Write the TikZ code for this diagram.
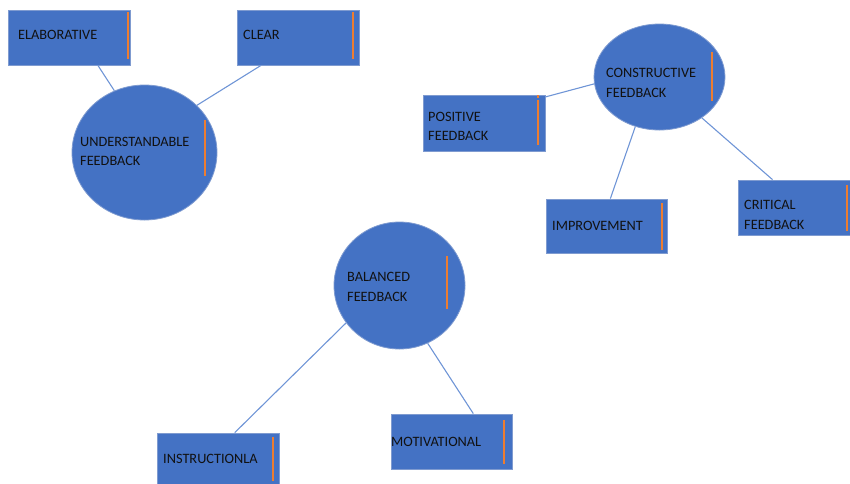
\documentclass[tikz,border=0pt]{standalone}
\usepackage{fontspec}
\setmainfont{Carlito}
\usetikzlibrary{shapes.geometric,calc}
\definecolor{fillblue}{HTML}{4472C4}
\definecolor{edgeblue}{HTML}{7F9BD0}
\definecolor{linkblue}{HTML}{6F95D6}
\definecolor{barorange}{HTML}{ED7D31}
\definecolor{txt}{HTML}{111111}
\tikzset{
  box/.style={draw=edgeblue, line width=0.8pt, fill=fillblue, rectangle, inner sep=0pt},
  oval/.style={draw=edgeblue, line width=0.8pt, fill=fillblue, ellipse, inner sep=0pt},
  lbl/.style={anchor=west, inner sep=0pt, text=txt, font=\fontsize{14.3}{19.5}\selectfont, align=left},
  link/.style={draw=linkblue, line width=1.1pt},
  bar/.style={draw=barorange, line width=1.8pt}
}
\begin{document}
\begin{tikzpicture}[x=1pt,y=-1pt]
\useasboundingbox (0,0) rectangle (850,483);
\clip (0,0) rectangle (850,483);
% shapes
\node[box, minimum width=122pt, minimum height=55pt] (elab) at (69,37.5) {};
\node[box, minimum width=122pt, minimum height=55pt] (clear) at (298,37.5) {};
\node[oval, minimum width=145pt, minimum height=135pt] (und) at (144.5,152.5) {};
\node[oval, minimum width=131pt, minimum height=106pt] (cons) at (659.5,77) {};
\node[box, minimum width=122pt, minimum height=56pt] (pos) at (484,123) {};
\node[box, minimum width=121pt, minimum height=54pt] (impr) at (606.5,226) {};
\node[box, minimum width=121pt, minimum height=55pt] (crit) at (798.5,207.5) {};
\node[oval, minimum width=131pt, minimum height=127pt] (bal) at (399.5,285.5) {};
\node[box, minimum width=122pt, minimum height=55pt] (instr) at (218,460.5) {};
\node[box, minimum width=121pt, minimum height=55pt] (motiv) at (451.5,441.5) {};
% connectors
\draw[link] (elab.-44.5) -- (und.116.7);
\draw[link] (clear.217.4) -- (und.42.7);
\draw[link] (pos.23.1) -- (cons.186.1);
\draw[link] (impr.82.6) -- (cons.244.3);
\draw[link] (crit.133.9) -- (cons.-44.7);
\draw[link] (instr.59.8) -- (bal.215);
\draw[link] (motiv.52) -- (bal.-64);
% orange bars
\draw[bar] (128,12) -- (128,59);
\draw[bar] (353,12) -- (353,59);
\draw[bar] (205,120) -- (205,176);
\draw[bar] (712,52) -- (712,101);
\draw[bar] (538,100) -- (538,145);
\draw[bar] (538,95) -- (538,98);
\draw[bar] (662,203) -- (662,250);
\draw[bar] (847,185) -- (847,231);
\draw[bar] (447,256) -- (447,309);
\draw[bar] (273,437) -- (273,481);
\draw[bar] (504,420) -- (504,464);
% labels
\node[lbl] (telab) at (18,35) {ELABORATIVE};
\node[lbl] (tclear) at (243,35) {CLEAR};
\node[lbl] (tund) at (80,151.5) {UNDERSTANDABLE\\FEEDBACK};
\node[lbl] (tcons) at (606,83) {CONSTRUCTIVE\\FEEDBACK};
\node[lbl] (tpos) at (428,126.5) {POSITIVE\\FEEDBACK};
\node[lbl] (timpr) at (552,226) {IMPROVEMENT};
\node[lbl] (tcrit) at (744,215) {CRITICAL\\FEEDBACK};
\node[lbl] (tbal) at (347,287) {BALANCED\\FEEDBACK};
\node[lbl] (tinstr) at (163,459) {INSTRUCTIONLA};
\node[lbl] (tmotiv) at (391,442) {MOTIVATIONAL};
\end{tikzpicture}
\end{document}
